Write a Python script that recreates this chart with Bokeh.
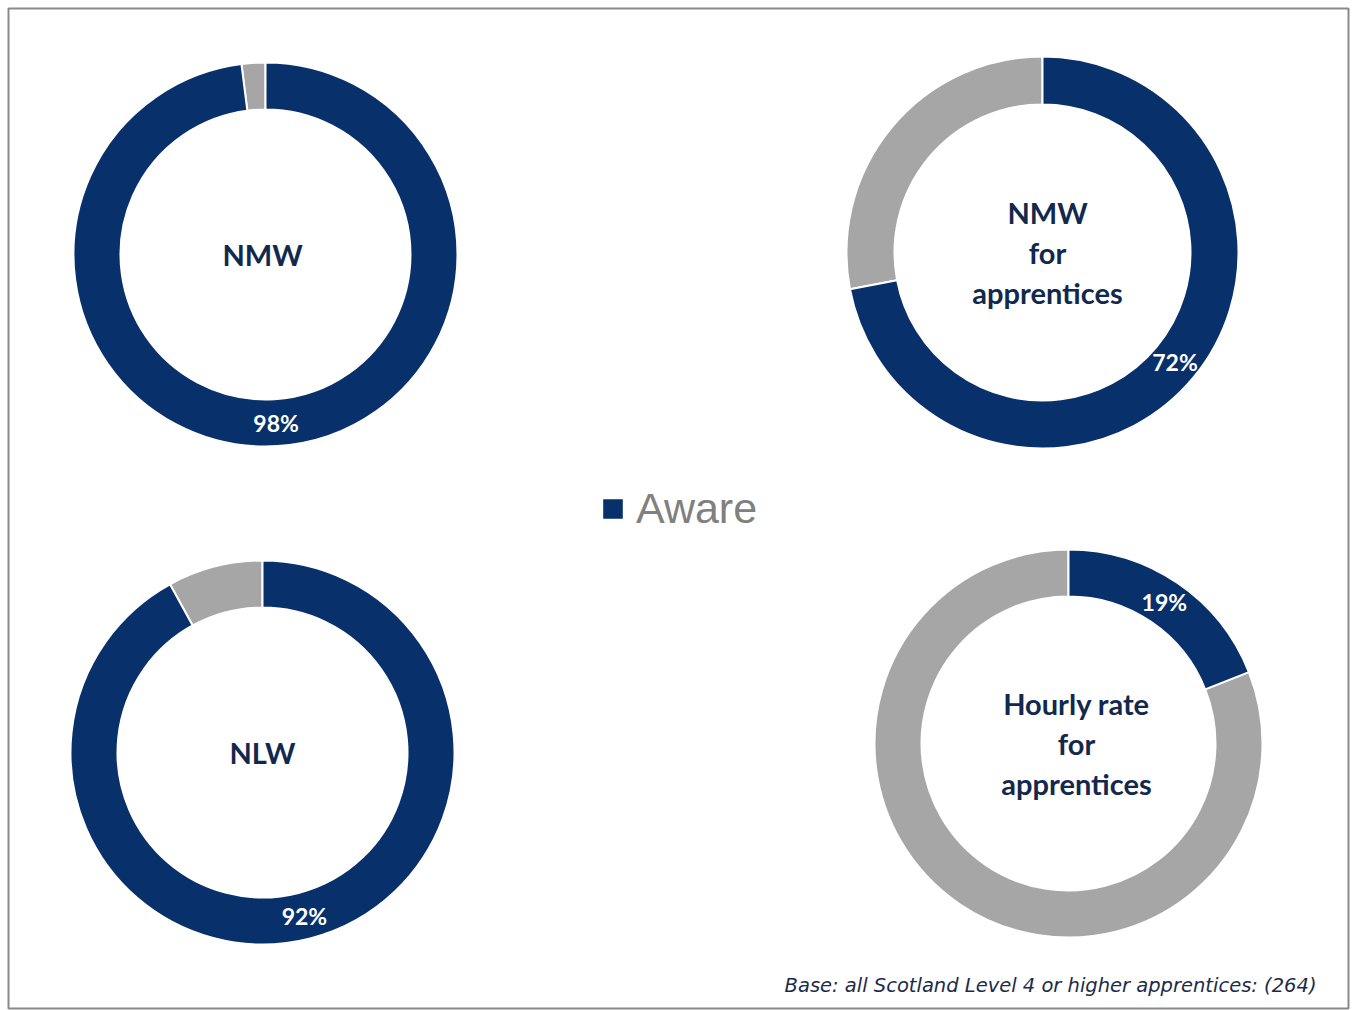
import math
from bokeh.plotting import figure
from bokeh.models import ColumnDataSource, Range1d, Legend, LegendItem
from bokeh.embed import file_html
from bokeh.resources import INLINE
from bokeh.core.properties import value

# ---- data ----
categories = ["NMW", "NMW\nfor\napprentices", "NLW", "Hourly rate\nfor\napprentices"]
aware = [98, 72, 92, 19]
not_aware = [2, 28, 8, 81]
series_names = ["Aware", "Not aware"]
note = "Base: all Scotland Level 4 or higher apprentices: (264)"

# ---- layout (pixels inside the chart frame) ----
W, H = 1340, 1000
centers_px = [(257, 246), (1034, 244), (254, 744), (1060, 735)]
outer_r = [192, 196, 192, 194]
inner_r = [145, 148, 145, 147]
title_dx = [-3, 5, 0, 8]
NAVY = "#08306b"
GREY = "#a6a6a6"
TEXT = "#12284d"

cx = [c[0] for c in centers_px]
cy = [H - c[1] for c in centers_px]
top = math.pi / 2

a_start, a_end, n_start, n_end = [], [], [], []
lab_x, lab_y, lab_t = [], [], []
for i in range(len(categories)):
    tot = aware[i] + not_aware[i]
    fa = aware[i] / tot
    a_start.append(top)
    a_end.append(top - 2 * math.pi * fa)
    n_start.append(top - 2 * math.pi * fa)
    n_end.append(top - 2 * math.pi)
    mid = top - math.pi * fa
    rm = (outer_r[i] + inner_r[i]) / 2
    lab_x.append(cx[i] + rm * math.cos(mid))
    lab_y.append(cy[i] + rm * math.sin(mid))
    lab_t.append(f"{aware[i]}%")

src_a = ColumnDataSource(dict(x=cx, y=cy, ri=inner_r, ro=outer_r, s=a_start, e=a_end))
src_n = ColumnDataSource(dict(x=cx, y=cy, ri=inner_r, ro=outer_r, s=n_start, e=n_end))
src_lab = ColumnDataSource(dict(x=lab_x, y=lab_y, t=lab_t))
src_cat = ColumnDataSource(dict(x=[x + d for x, d in zip(cx, title_dx)], y=cy, t=categories))

p = figure(width=W + 12, height=H + 10, x_range=Range1d(0, W), y_range=Range1d(0, H),
           output_backend="svg", toolbar_location=None,
           min_border_left=8, min_border_top=8, min_border_right=4, min_border_bottom=2)
p.axis.visible = False
p.grid.visible = False
p.outline_line_color = "#8a8a8a"
p.outline_line_width = 2
p.background_fill_color = "white"

r_n = p.annular_wedge(x="x", y="y", inner_radius="ri", outer_radius="ro",
                      start_angle="s", end_angle="e", direction="clock",
                      source=src_n, fill_color=GREY, line_color="white", line_width=2)
r_a = p.annular_wedge(x="x", y="y", inner_radius="ri", outer_radius="ro",
                      start_angle="s", end_angle="e", direction="clock",
                      source=src_a, fill_color=NAVY, line_color="white", line_width=2)

p.text(x="x", y="y", text="t", source=src_lab, text_color="white",
       text_font=value("Lato"), text_font_style="bold", text_font_size="23px",
       text_align="center", text_baseline="middle")
p.text(x="x", y="y", text="t", source=src_cat, text_color=TEXT,
       text_font=value("Lato"), text_font_style="bold", text_font_size="29px",
       text_align="center", text_baseline="middle", text_line_height=1.15)

p.text(x=[W - 32], y=[23], text=[note], text_color="#1c2b48",
       text_font=value("DejaVu Sans"), text_font_style="italic",
       text_font_size="19.5px", text_align="right", text_baseline="alphabetic")

legend = Legend(items=[LegendItem(label=series_names[0], renderers=[r_a])],
                location=(591, 475), orientation="horizontal",
                border_line_color=None, background_fill_alpha=0,
                padding=0, margin=0, glyph_width=27, glyph_height=27,
                label_standoff=10, label_text_font="Liberation Sans",
                label_text_font_size="43px", label_text_color="#808080")
p.add_layout(legend, "center")

open("out.html", "w").write(file_html(p, INLINE))
